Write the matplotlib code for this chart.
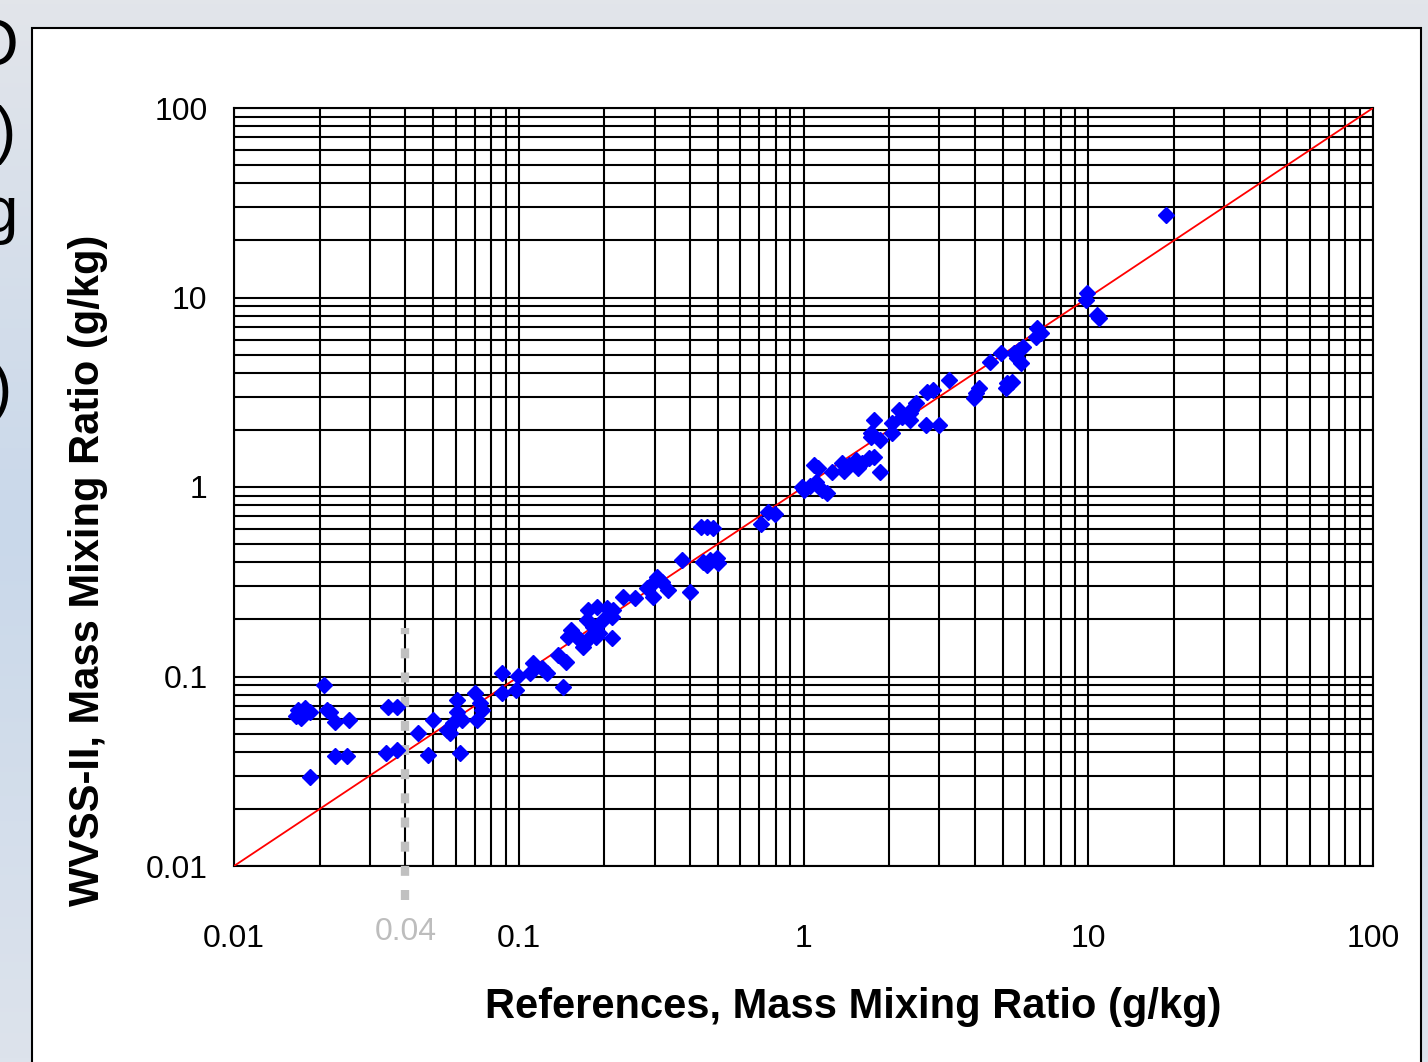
import numpy as np
import matplotlib
matplotlib.use('Agg')
import matplotlib.pyplot as plt
from matplotlib.ticker import LogLocator, FixedLocator, NullFormatter
from matplotlib.patches import Rectangle

# reference (x) vs WVSS-II (y) mass mixing ratio, g/kg
ref_x = [0.0207, 0.0168, 0.0177, 0.0172, 0.0185, 0.0165, 0.0212, 0.0217, 0.0226, 0.0253,
         0.0226, 0.0249, 0.0185, 0.0347, 0.0373, 0.0341, 0.0373, 0.0442, 0.0499, 0.0480,
         0.0559, 0.0575, 0.0606, 0.0606, 0.0631, 0.0587, 0.0621, 0.0701, 0.0730, 0.0714,
         0.0742, 0.0871, 0.0871, 0.099, 0.098,
         0.112, 0.1205, 0.1254, 0.1093, 0.137, 0.147, 0.143, 0.149, 0.153, 0.164,
         0.168, 0.173, 0.175, 0.182, 0.189, 0.192, 0.197, 0.204, 0.212, 0.214,
         0.178, 0.160, 0.187, 0.212, 0.170, 0.232, 0.255, 0.281, 0.295, 0.307,
         0.318, 0.295, 0.333, 0.373, 0.398, 0.442, 0.468, 0.495, 0.457, 0.500,
         0.457, 0.480, 0.438, 0.712, 0.748, 0.791,
         0.99, 1.008, 1.05, 1.11, 1.166, 1.205, 1.093, 1.12, 1.26, 1.37,
         1.45, 1.535, 1.61, 1.70, 1.775, 1.55, 1.39, 1.85, 1.73, 1.775,
         1.73, 1.85, 2.04, 2.05, 2.22, 2.36, 2.17, 2.39, 2.49, 2.36,
         2.72, 2.84, 2.70, 2.98, 3.25, 4.05, 4.15, 3.98, 4.5, 4.95,
         5.2, 5.4, 5.15, 5.5, 5.73, 5.82, 5.9, 5.6, 6.62, 6.55,
         6.8, 9.92, 9.84, 10.75, 10.9, 18.8]
wvss_y = [0.090, 0.0666, 0.0682, 0.0604, 0.0650, 0.0619, 0.0666, 0.0650, 0.0575, 0.0589,
          0.0380, 0.0380, 0.0295, 0.069, 0.069, 0.0395, 0.041, 0.0503, 0.0589, 0.0385,
          0.0522, 0.0503, 0.075, 0.065, 0.0589, 0.0569, 0.0395, 0.0818, 0.0725, 0.0589,
          0.0666, 0.104, 0.0818, 0.1008, 0.085,
          0.118, 0.111, 0.104, 0.104, 0.13, 0.119, 0.088, 0.162, 0.176, 0.156,
          0.143, 0.199, 0.224, 0.182, 0.233, 0.17, 0.199, 0.230, 0.206, 0.224,
          0.162, 0.162, 0.162, 0.160, 0.150, 0.263, 0.261, 0.293, 0.263, 0.335,
          0.315, 0.312, 0.286, 0.412, 0.279, 0.402, 0.412, 0.422, 0.388, 0.397,
          0.615, 0.610, 0.612, 0.640, 0.738, 0.720,
          1.0, 0.964, 1.01, 1.06, 0.964, 0.929, 1.306, 1.26, 1.2, 1.34,
          1.306, 1.389, 1.34, 1.42, 1.44, 1.26, 1.22, 1.2, 1.93, 2.26,
          1.84, 1.77, 2.18, 1.93, 2.34, 2.46, 2.55, 2.55, 2.77, 2.26,
          3.17, 3.25, 2.12, 2.12, 3.67, 3.13, 3.33, 2.95, 4.57, 5.1,
          3.54, 3.6, 3.33, 5.1, 5.28, 4.51, 5.5, 4.8, 6.9, 6.2,
          6.5, 10.56, 9.7, 8.09, 7.8, 27.2]

one_to_one = [0.01, 100]
major_ticks = [0.01, 0.1, 1, 10, 100]
tick_labels = ['0.01', '0.1', '1', '10', '100']
cutoff_x = 0.04
cutoff_span = [0.0066, 0.18]

font = ['Liberation Sans', 'DejaVu Sans']

fig = plt.figure(figsize=(14.28, 10.62), dpi=100)

# slide background (soft grey-blue)
bg = fig.add_axes([0, 0, 1, 1], zorder=-10)
grad = np.linspace(0, 1, 256).reshape(-1, 1)
bg.imshow(grad, cmap=matplotlib.colors.LinearSegmentedColormap.from_list(
    'bg', ['#e2e5ea', '#c9d8ea', '#dde3ec']), aspect='auto', extent=[0, 1, 0, 1])
bg.axis('off')

# white chart box
fig.patches.append(Rectangle((32 / 1428, -0.01), (1421 - 32) / 1428, 1 - 28 / 1062 + 0.01,
                             transform=fig.transFigure, facecolor='white',
                             edgecolor='black', linewidth=1.5, zorder=-5))

# bits of slide text cut off on the left edge
for ch, xr, yc in [('O', 19, 48), (')', 16, 135), ('g', 18, 215), (')', 12, 392)]:
    fig.text(xr / 1428, 1 - yc / 1062, ch, ha='right', va='center', fontsize=46,
             family=font, color='black')

ax = fig.add_axes([234 / 1428, 196 / 1062, (1373 - 234) / 1428, (866 - 108) / 1062])
ax.set_xscale('log')
ax.set_yscale('log')
ax.set_xlim(0.01, 100)
ax.set_ylim(0.01, 100)

for axis in [ax.xaxis, ax.yaxis]:
    axis.set_major_locator(FixedLocator(major_ticks))
    axis.set_minor_locator(LogLocator(base=10, subs=np.arange(2, 10)))
    axis.set_minor_formatter(NullFormatter())
ax.set_xticklabels(tick_labels)
ax.set_yticklabels(tick_labels)
ax.grid(True, which='both', color='black', linewidth=1.5)
ax.set_axisbelow(True)
for s in ax.spines.values():
    s.set_linewidth(1.5)
ax.tick_params(which='both', length=0)
ax.tick_params(axis='x', pad=42, labelsize=23)
ax.tick_params(axis='y', pad=19, labelsize=23)
for lab in ax.get_xticklabels() + ax.get_yticklabels():
    lab.set_family(font)

# 1:1 line
ax.plot(one_to_one, one_to_one, color='red', linewidth=1.3, zorder=3)

# detection cut-off marker at 0.04 g/kg
ax.plot([cutoff_x, cutoff_x], cutoff_span, color='#c0c0c0', linewidth=6,
        dashes=(1.2, 1.7), solid_capstyle='butt', clip_on=False, zorder=4)
ax.text(cutoff_x, 0.00449, '0.04', color='#bdbdbd', fontsize=23, family=font,
        ha='center', va='center')

ax.plot(ref_x, wvss_y, linestyle='none', marker='D', markersize=8.5,
        color='#0000ff', zorder=5)

fig.text(853 / 1428, 1 - 1007 / 1062, 'References, Mass Mixing Ratio (g/kg)',
         ha='center', va='center', fontsize=30, fontweight='bold', family=font)
fig.text(88 / 1428, 1 - 570 / 1062, 'WVSS-II, Mass Mixing Ratio (g/kg)',
         ha='center', va='center', rotation=90, fontsize=30, fontweight='bold', family=font)

fig.savefig('out.png', dpi=100)
